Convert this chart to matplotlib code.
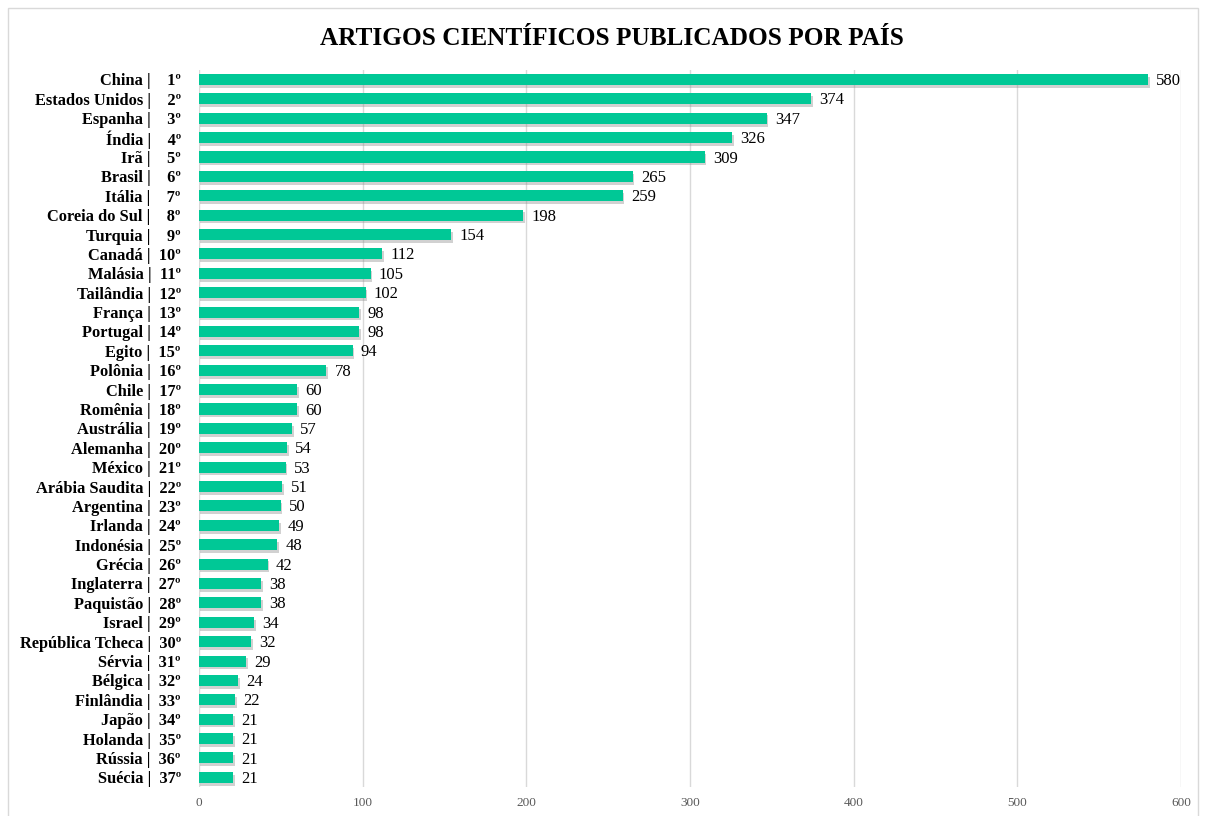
import matplotlib.pyplot as plt
import matplotlib.patheffects as pe
from matplotlib.patches import Rectangle

countries = ["China", "Estados Unidos", "Espanha", "Índia", "Irã", "Brasil", "Itália",
             "Coreia do Sul", "Turquia", "Canadá", "Malásia", "Tailândia", "França",
             "Portugal", "Egito", "Polônia", "Chile", "Romênia", "Austrália", "Alemanha",
             "México", "Arábia Saudita", "Argentina", "Irlanda", "Indonésia", "Grécia",
             "Inglaterra", "Paquistão", "Israel", "República Tcheca", "Sérvia", "Bélgica",
             "Finlândia", "Japão", "Holanda", "Rússia", "Suécia"]
articles = [580, 374, 347, 326, 309, 265, 259, 198, 154, 112, 105, 102, 98, 98, 94, 78,
            60, 60, 57, 54, 53, 51, 50, 49, 48, 42, 38, 38, 34, 32, 29, 24, 22, 21, 21, 21, 21]
xticks = [0, 100, 200, 300, 400, 500, 600]

plt.rcParams['font.family'] = ['Liberation Serif', 'DejaVu Serif']

fig = plt.figure(figsize=(12.05, 8.16), dpi=100)
ax = fig.add_axes([0.165, 0.0355, 0.815, 0.879])

labels = []
for i, c in enumerate(countries):
    rank = '{}º'.format(i + 1)
    if i + 1 < 10:
        rank = '  ' + rank
    labels.append('{} |  {}'.format(c, rank))

ypos = list(range(len(countries)))
bars = ax.barh(ypos, articles, height=0.57, color='#00c896', zorder=3)
for b in bars:
    b.set_path_effects([pe.SimplePatchShadow(offset=(1.2, -2), shadow_rgbFace='#8c8c8c', alpha=0.4),
                        pe.Normal()])

for y, v in zip(ypos, articles):
    ax.text(v + 5, y + 0.08, str(v), va='center', ha='left', fontsize=12)

ax.set_yticks(ypos)
ax.set_yticklabels(labels, fontsize=11.8, fontweight='bold')
ax.set_ylim(len(countries) - 0.5, -0.5)
ax.set_xlim(0, 600)
ax.set_xticks(xticks)
ax.tick_params(axis='x', labelsize=9.5, labelcolor='#595959', length=0, pad=7)
ax.tick_params(axis='y', length=0, pad=13)
ax.grid(axis='x', color='#d9d9d9', linewidth=1, zorder=0)
for s in ax.spines.values():
    s.set_visible(False)

fig.text(0.5075, 0.953, 'ARTIGOS CIENTÍFICOS PUBLICADOS POR PAÍS', ha='center', va='center',
         fontsize=18.2, fontweight='bold')
fig.patches.append(Rectangle((8 / 1205, -0.01), 1190 / 1205, 1 - 8 / 816 + 0.01,
                             transform=fig.transFigure, fill=False,
                             edgecolor='#d9d9d9', linewidth=1))

fig.savefig('out.png', dpi=100)
